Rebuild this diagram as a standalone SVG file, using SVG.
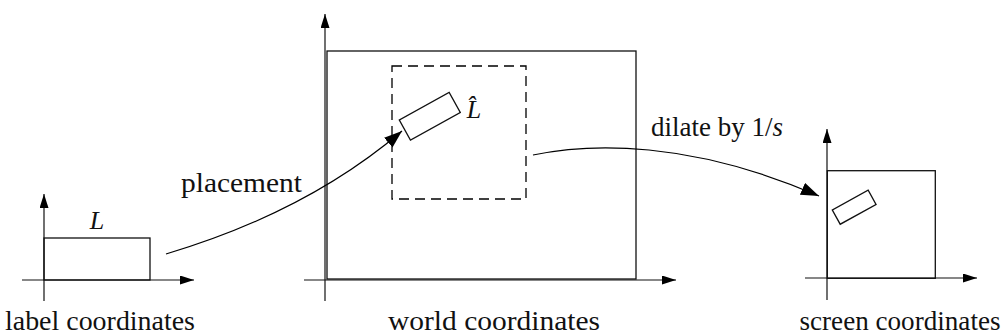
<svg xmlns="http://www.w3.org/2000/svg" width="1003" height="335" viewBox="0 0 1003 335">
<style>
.ax{stroke:#111;stroke-width:1.2;fill:none}
.bx{stroke:#111;stroke-width:1.3;fill:none}
.dash{stroke:#000;stroke-width:1.3;fill:none;stroke-dasharray:10 6}
.cv{stroke:#000;stroke-width:1.2;fill:none}
.t{font-family:'Liberation Serif','DejaVu Serif','Times New Roman',serif;font-size:27px;fill:#111}
.m{font-family:'Liberation Serif','DejaVu Serif','Times New Roman',serif;font-size:26px;font-style:italic;fill:#111}
</style>
<defs>
<marker id="ah" viewBox="0 0 14 9" refX="14" refY="4.5" markerWidth="14" markerHeight="9" markerUnits="userSpaceOnUse" orient="auto"><path d="M0,0L14,4.5L0,9z" fill="#000"/></marker>
<marker id="ch" viewBox="0 0 18 13" refX="18" refY="6.5" markerWidth="18" markerHeight="13" markerUnits="userSpaceOnUse" orient="auto"><path d="M0,0L18,6.5L0,13z" fill="#000"/></marker>
</defs>
<g id="label-coords">
<line class="ax" x1="44" y1="301" x2="44" y2="194" marker-end="url(#ah)"/>
<line class="ax" x1="22" y1="280" x2="194" y2="280" marker-end="url(#ah)"/>
<rect class="bx" x="44" y="238" width="106" height="42"/>
<text class="m" x="97" y="229" text-anchor="middle" font-family="Liberation Serif, DejaVu Serif, serif">L</text>
<text class="t" x="100" y="330" text-anchor="middle" textLength="190" lengthAdjust="spacingAndGlyphs" font-family="Liberation Serif, DejaVu Serif, serif">label coordinates</text>
</g>
<g id="world-coords">
<line class="ax" x1="325" y1="301" x2="325" y2="14" marker-end="url(#ah)"/>
<line class="ax" x1="304" y1="280" x2="676" y2="280" marker-end="url(#ah)"/>
<rect class="bx" x="327" y="51" width="309" height="228"/>
<rect class="dash" x="392" y="66" width="134" height="133"/>
<rect class="bx" x="0" y="0" width="57" height="23" transform="translate(399.3,120) rotate(-29)"/>
<text class="m" x="474" y="118" text-anchor="middle" font-family="Liberation Serif, DejaVu Serif, serif">L̂</text>
<text class="t" x="494" y="330" text-anchor="middle" textLength="212" lengthAdjust="spacingAndGlyphs" font-family="Liberation Serif, DejaVu Serif, serif">world coordinates</text>
</g>
<g id="screen-coords">
<line class="ax" x1="827" y1="300" x2="827" y2="129" marker-end="url(#ah)"/>
<line class="ax" x1="805" y1="278" x2="977" y2="278" marker-end="url(#ah)"/>
<rect class="bx" x="827.3" y="170.7" width="108" height="107.6"/>
<rect class="bx" x="0" y="0" width="41" height="16.3" transform="translate(832.3,210) rotate(-29)"/>
<text class="t" x="900" y="330" text-anchor="middle" textLength="201" lengthAdjust="spacingAndGlyphs" font-family="Liberation Serif, DejaVu Serif, serif">screen coordinates</text>
</g>
<g id="connectors">
<path class="cv" d="M166,254 Q307,212 402,131" marker-end="url(#ch)"/>
<text class="t" x="181" y="192" textLength="121" lengthAdjust="spacingAndGlyphs" font-family="Liberation Serif, DejaVu Serif, serif">placement</text>
<path class="cv" d="M533,155 C590,143 690,140 819,196" marker-end="url(#ch)"/>
<text class="t" x="651" y="136" font-family="Liberation Serif, DejaVu Serif, serif">dilate by 1/<tspan font-style="italic">s</tspan></text>
</g>
</svg>
